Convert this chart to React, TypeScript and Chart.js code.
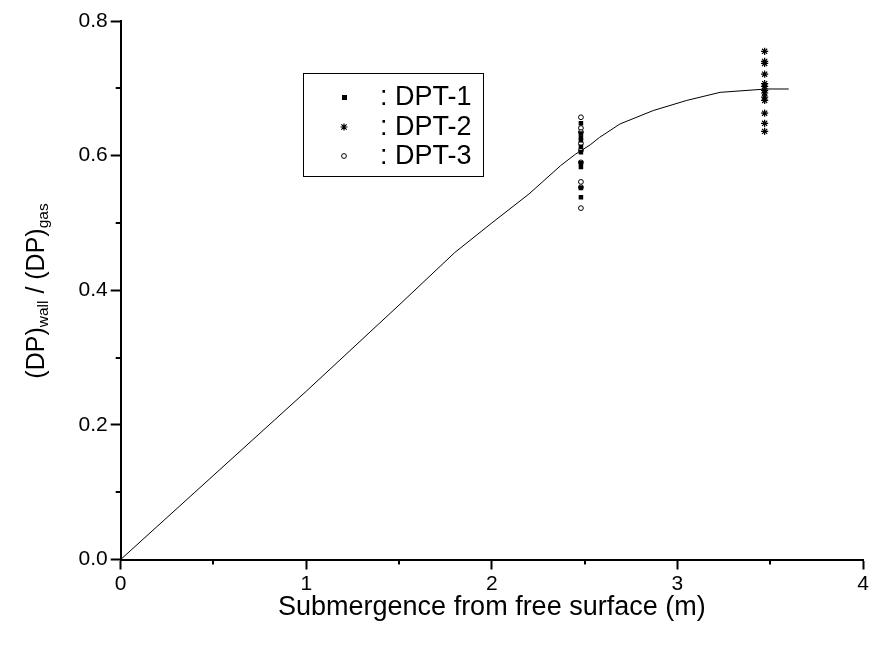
import React, { useEffect, useRef } from "react";
import { Chart, registerables } from "chart.js";

Chart.register(...registerables);

// Fitted pressure-ratio curve
const curveX = [0, 0.4, 1, 1.5, 1.8, 2, 2.2, 2.37, 2.45, 2.53, 2.58, 2.69, 2.87, 3.05, 3.23, 3.48, 3.6];
const curveY = [0, 0.1, 0.25, 0.378, 0.456, 0.5, 0.543, 0.585, 0.602, 0.616, 0.627, 0.647, 0.667, 0.682, 0.694, 0.699, 0.699];

// Transducer readings
const dpt1X = 2.48;
const dpt1Y = [0.648, 0.633, 0.627, 0.623, 0.613, 0.605, 0.589, 0.583, 0.552, 0.538];
const dpt2X = 3.47;
const dpt2Y = [0.755, 0.74, 0.737, 0.721, 0.707, 0.703, 0.697, 0.693, 0.687, 0.682, 0.663, 0.648, 0.636];
const dpt3X = 2.48;
const dpt3Y = [0.657, 0.641, 0.635, 0.618, 0.608, 0.59, 0.561, 0.553, 0.522];

const seriesNames = [": DPT-1", ": DPT-2", ": DPT-3"];
const xTitle = "Submergence from free surface (m)";
const xMinorTicks = [0.5, 1.5, 2.5, 3.5];
const yMinorTicks = [0.1, 0.3, 0.5, 0.7];

const FONT = "'Liberation Sans', Arial, sans-serif";

const minorTicksPlugin = {
  id: "minorTicks",
  afterDraw(chart: any) {
    const { ctx, scales } = chart;
    const xs = scales.x;
    const ys = scales.y;
    ctx.save();
    ctx.strokeStyle = "#000";
    ctx.lineWidth = 2;
    ctx.beginPath();
    for (const v of xMinorTicks) {
      const px = Math.round(xs.getPixelForValue(v));
      ctx.moveTo(px, ys.bottom);
      ctx.lineTo(px, ys.bottom + 5);
    }
    for (const v of yMinorTicks) {
      const py = Math.round(ys.getPixelForValue(v));
      ctx.moveTo(xs.left, py);
      ctx.lineTo(xs.left - 5, py);
    }
    ctx.stroke();
    ctx.restore();
  },
};

const yTitlePlugin = {
  id: "yTitle",
  afterDraw(chart: any) {
    const { ctx } = chart;
    const parts: [string, number, number][] = [
      ["(DP)", 25, 0],
      ["wall", 15.5, 7],
      [" / (DP)", 25, 0],
      ["gas", 15.5, 7],
    ];
    ctx.save();
    let total = 0;
    for (const [t, s] of parts) {
      ctx.font = `${s}px ${FONT}`;
      total += ctx.measureText(t).width;
    }
    ctx.translate(37, 291);
    ctx.rotate(-Math.PI / 2);
    ctx.fillStyle = "#000";
    ctx.textBaseline = "middle";
    ctx.textAlign = "left";
    let x = -total / 2;
    for (const [t, s, dy] of parts) {
      ctx.font = `${s}px ${FONT}`;
      ctx.fillText(t, x, dy);
      x += ctx.measureText(t).width;
    }
    ctx.restore();
  },
};

const legendBoxPlugin = {
  id: "legendBox",
  afterDraw(chart: any) {
    const { ctx } = chart;
    const left = 303, top = 73, right = 483, bottom = 176;
    ctx.save();
    ctx.strokeStyle = "#000";
    ctx.lineWidth = 1;
    ctx.strokeRect(left + 0.5, top + 0.5, right - left, bottom - top);
    const rows = [97, 127, 156];
    const mx = 344;
    ctx.fillStyle = "#000";
    // square
    ctx.fillRect(mx - 2, rows[0] - 2, 5, 5);
    // star
    ctx.beginPath();
    const r = 3.5;
    ctx.lineWidth = 1.2;
    ctx.moveTo(mx - r, rows[1]); ctx.lineTo(mx + r, rows[1]);
    ctx.moveTo(mx, rows[1] - r); ctx.lineTo(mx, rows[1] + r);
    ctx.moveTo(mx - r * 0.75, rows[1] - r * 0.75); ctx.lineTo(mx + r * 0.75, rows[1] + r * 0.75);
    ctx.moveTo(mx - r * 0.75, rows[1] + r * 0.75); ctx.lineTo(mx + r * 0.75, rows[1] - r * 0.75);
    ctx.stroke();
    // circle
    ctx.lineWidth = 1;
    ctx.beginPath();
    ctx.arc(mx, rows[2], 2.4, 0, Math.PI * 2);
    ctx.fillStyle = "#fff";
    ctx.fill();
    ctx.stroke();
    ctx.fillStyle = "#000";
    ctx.font = `27px ${FONT}`;
    ctx.textBaseline = "middle";
    ctx.textAlign = "left";
    seriesNames.forEach((n, i) => ctx.fillText(n, 380, rows[i] + 1));
    ctx.restore();
  },
};

export default function App() {
  const ref = useRef<HTMLCanvasElement | null>(null);

  useEffect(() => {
    if (!ref.current) return;
    const chart = new Chart(ref.current, {
      type: "scatter",
      data: {
        datasets: [
          {
            type: "line",
            label: "curve",
            data: curveX.map((x, i) => ({ x, y: curveY[i] })),
            borderColor: "#000",
            borderWidth: 1,
            pointRadius: 0,
            tension: 0,
            fill: false,
          } as any,
          {
            label: "DPT-1",
            data: dpt1Y.map((y) => ({ x: dpt1X, y })),
            pointStyle: "rect",
            pointRadius: 3.2,
            backgroundColor: "#000",
            borderColor: "#000",
            borderWidth: 0,
          },
          {
            label: "DPT-2",
            data: dpt2Y.map((y) => ({ x: dpt2X, y })),
            pointStyle: "star",
            pointRadius: 3.6,
            backgroundColor: "#000",
            borderColor: "#000",
            borderWidth: 1.2,
          },
          {
            label: "DPT-3",
            data: dpt3Y.map((y) => ({ x: dpt3X, y })),
            pointStyle: "circle",
            pointRadius: 2.4,
            backgroundColor: "#fff",
            borderColor: "#000",
            borderWidth: 1,
          },
        ],
      },
      options: {
        animation: false,
        responsive: true,
        maintainAspectRatio: false,
        layout: { padding: { left: 0, top: 21, right: 15, bottom: 0 } },
        plugins: {
          legend: { display: false },
          tooltip: { enabled: false },
        },
        scales: {
          x: {
            type: "linear",
            min: 0,
            max: 4,
            afterFit: (s: any) => {
              s.height = 85.5;
            },
            ticks: {
              stepSize: 1,
              color: "#000",
              font: { family: FONT, size: 21 },
              padding: 2,
              maxRotation: 0,
            },
            grid: {
              drawOnChartArea: false,
              drawTicks: true,
              tickLength: 10,
              tickWidth: 2,
              tickColor: "#000",
            },
            border: { display: true, color: "#000", width: 2 },
            title: {
              display: true,
              text: xTitle,
              color: "#000",
              font: { family: FONT, size: 27 },
              padding: { top: 0, bottom: 21 },
            },
          },
          y: {
            type: "linear",
            min: 0,
            max: 0.8,
            afterFit: (s: any) => {
              s.width = 120.7;
            },
            ticks: {
              stepSize: 0.2,
              color: "#000",
              font: { family: FONT, size: 21 },
              padding: 3,
              callback: (v: any) => Number(v).toFixed(1),
            },
            grid: {
              drawOnChartArea: false,
              drawTicks: true,
              tickLength: 10,
              tickWidth: 2,
              tickColor: "#000",
            },
            border: { display: true, color: "#000", width: 2 },
          },
        },
      },
      plugins: [minorTicksPlugin, yTitlePlugin, legendBoxPlugin],
    });
    return () => chart.destroy();
  }, []);

  return (
    <div style={{ position: "absolute", left: 0, top: 0, width: 878, height: 645, background: "#fff" }}>
      <canvas ref={ref} />
    </div>
  );
}
